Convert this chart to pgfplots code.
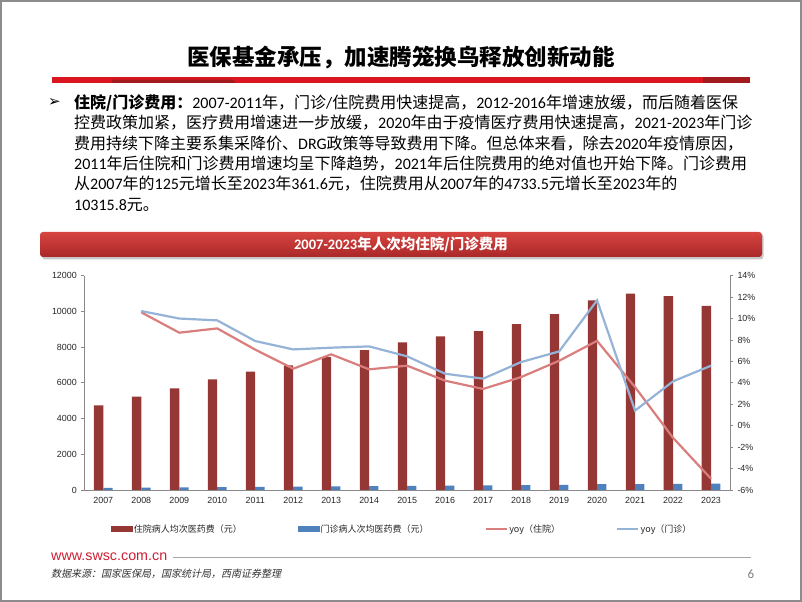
\documentclass[border=0pt]{standalone}
\usepackage{fontspec}
\usepackage{pgfplots}
\usepackage{pgfplotstable}
\pgfplotsset{compat=1.18}
\setmainfont{Carlito}
\newfontfamily\cjk{Noto Sans CJK SC}
\newfontfamily\kai{Noto Sans CJK SC}[FakeSlant=0.22]
\newfontfamily\arial{Liberation Sans}
\newfontfamily\dejavu{DejaVu Sans}
\newcommand\LL[1]{{\rmfamily#1}}
\definecolor{barred}{RGB}{149,55,53}
\definecolor{barblue}{RGB}{79,129,189}
\definecolor{lred}{RGB}{217,125,125}
\definecolor{lblue}{RGB}{149,179,215}
\definecolor{titlered}{RGB}{218,22,32}
\definecolor{titledark}{RGB}{160,26,30}
\definecolor{swred}{RGB}{206,30,52}
\definecolor{axgray}{RGB}{137,137,137}

\pgfplotstableread{
x  inp     outp   yin    yout
0  4733.5  125.0  nan    nan
1  5234.1  138.3  10.58  10.7
2  5684.1  152.0  8.68   10.0
3  6193.9  166.8  9.08   9.83
4  6632.2  179.8  7.1    7.9
5  6980.4  192.5  5.32   7.12
6  7442.3  206.4  6.66   7.28
7  7832.3  220.0  5.26   7.4
8  8268.1  233.9  5.6    6.47
9  8604.7  245.5  4.2    4.85
10 8890.7  257.0  3.43   4.39
11 9291.9  274.1  4.54   5.94
12 9848.4  290.8  6.06   6.93
13 10619.2 324.4  7.92   11.7
14 11002.3 329.1  3.6    1.41
15 10860.6 342.7  -1.13  4.14
16 10315.8 361.6  -4.95  5.6
}\datatable

\begin{document}
\begin{tikzpicture}[x=1bp,y=1bp]
\path[use as bounding box] (0,0) rectangle (802,602);
\draw[line width=1.6bp, gray!90] (0.8,0.8) rectangle (801.2,601.2);

% title
\node[inner sep=0, font=\cjk\bfseries\fontsize{22.5bp}{26bp}\selectfont] at (401,544.5) {医保基金承压，加速腾笼换鸟释放创新动能};
\fill[titlered] (52,519) rectangle (750,525);
\fill[titledark] (112,519) -- (236,519) -- (233,522.3) -- (112,522.3) -- cycle;
\fill[titledark] (703,519) rectangle (750,525);

% bullet text
\node[inner sep=0, font=\dejavu\bfseries\fontsize{15bp}{17bp}\selectfont] at (54.5,499) {➢};
\begin{scope}[every node/.style={anchor=base west, inner sep=0, font=\cjk\fontsize{16bp}{19bp}\selectfont}]
\node at (74,493.4) {{\bfseries 住院/门诊费用：}\LL{2007-2011}年，门诊\LL{/}住院费用快速提高，\LL{2012-2016}年增速放缓，而后随着医保};
\node at (74,473.1) {控费政策加紧，医疗费用增速进一步放缓，\LL{2020}年由于疫情医疗费用快速提高，\LL{2021-2023}年门诊};
\node at (74,452.8) {费用持续下降主要系集采降价、\LL{DRG}政策等导致费用下降。但总体来看，除去\LL{2020}年疫情原因，};
\node at (74,432.5) {\LL{2011}年后住院和门诊费用增速均呈下降趋势，\LL{2021}年后住院费用的绝对值也开始下降。门诊费用};
\node at (74,412.2) {从\LL{2007}年的\LL{125}元增长至\LL{2023}年\LL{361.6}元，住院费用从\LL{2007}年的\LL{4733.5}元增长至\LL{2023}年的};
\node at (74,391.9) {\LL{10315.8}元。};
\end{scope}

% banner
\fill[black!22, rounded corners=3bp] (42,342.5) rectangle (763.5,368);
\shade[top color={rgb,255:red,214;green,68;blue,64}, bottom color={rgb,255:red,170;green,40;blue,40}, rounded corners=3bp] (40,345) rectangle (762,370);
\node[inner sep=0, text=white, font=\cjk\bfseries\fontsize{14.5bp}{16bp}\selectfont] at (401,357.5) {\LL{2007-2023}年人次均住院/门诊费用};

% chart
\begin{axis}[
  at={(84.3bp,112bp)}, anchor=south west,
  scale only axis, width=645.7bp, height=214.3bp,
  xmin=-0.5, xmax=16.5, ymin=0, ymax=12000,
  axis x line*=bottom, axis y line*=left,
  axis line style={axgray, line width=0.8bp},
  xtick={0,...,16},
  xticklabels={2007,2008,2009,2010,2011,2012,2013,2014,2015,2016,2017,2018,2019,2020,2021,2022,2023},
  x tick style={draw=none},
  ytick={0,2000,...,12000},
  y tick style={axgray, line width=0.8bp},
  tick align=outside, major tick length=3bp,
  scaled y ticks=false,
  /pgf/number format/.cd, 1000 sep={}, assume math mode=true, /pgfplots/.cd,
  tick label style={font=\arial\fontsize{8.9bp}{10bp}\selectfont, text=black!85},
  yticklabel style={xshift=-1bp},
  xticklabel style={yshift=-1bp},
]
\addplot[ybar, bar width=9.3bp, bar shift=-4.65bp, fill=barred, draw=none] table[x=x,y=inp]{\datatable};
\addplot[ybar, bar width=9.3bp, bar shift=4.65bp, fill=barblue, draw=none] table[x=x,y=outp]{\datatable};
\end{axis}

\begin{axis}[
  at={(84.3bp,112bp)}, anchor=south west,
  scale only axis, width=645.7bp, height=214.3bp,
  xmin=-0.5, xmax=16.5, ymin=-6, ymax=14,
  axis x line=none, axis y line*=right,
  axis line style={axgray, line width=0.8bp},
  ytick={-6,-4,...,14},
  y tick style={axgray, line width=0.8bp},
  tick align=outside, major tick length=3bp,
  yticklabel={\pgfmathprintnumber{\tick}\%},
  /pgf/number format/.cd, assume math mode=true, /pgfplots/.cd,
  tick label style={font=\arial\fontsize{8.9bp}{10bp}\selectfont, text=black!85},
  yticklabel style={xshift=1bp},
  legend image code/.code={\draw[#1] (0bp,0bp) -- (21bp,0bp);},
  legend columns=4,
  legend cell align=left,
  legend style={draw=none, fill=none, at={(0.492,-0.182)}, anchor=center,
    font=\cjk\fontsize{9bp}{11bp}\selectfont, text=black!85,
    nodes={inner sep=1.2bp},
    /tikz/every even column/.append style={column sep=55bp}},
]
\addlegendimage{legend image code/.code={\fill[barred] (0bp,-2.6bp) rectangle (21bp,2.6bp);}}
\addlegendentry{住院病人均次医药费（元）}
\addlegendimage{legend image code/.code={\fill[barblue] (0bp,-2.6bp) rectangle (21bp,2.6bp);}}
\addlegendentry{门诊病人次均医药费（元）}
\addplot[lred, line width=2.2bp] table[x=x,y=yin]{\datatable};
\addlegendentry{yoy（住院）}
\addplot[lblue, line width=2.2bp] table[x=x,y=yout]{\datatable};
\addlegendentry{yoy（门诊）}
\end{axis}

% footer
\node[anchor=base west, inner sep=0, text=swred, font=\arial\fontsize{14.3bp}{16bp}\selectfont] at (51,41.3) {www.swsc.com.cn};
\draw[black!35, line width=1.3bp] (173,44.5) -- (751,44.5);
\node[anchor=base west, inner sep=0, text=black!80, font=\kai\fontsize{10bp}{12bp}\selectfont] at (51,24.7) {数据来源：国家医保局，国家统计局，西南证券整理};
\node[anchor=base west, inner sep=0, text=black!50, font=\rmfamily\fontsize{13bp}{15bp}\selectfont] at (747.5,23.7) {6};
\end{tikzpicture}
\end{document}
